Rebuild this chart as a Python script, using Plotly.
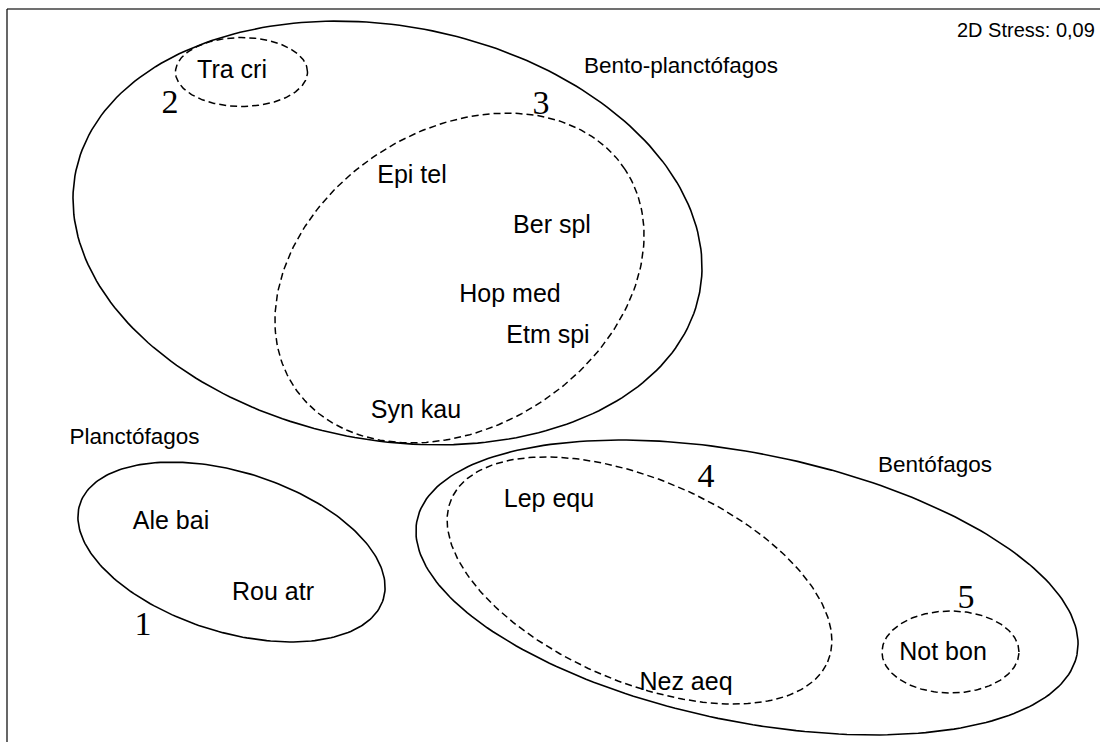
import numpy as np
import plotly.graph_objects as go

# NMDS scores of the species (arbitrary units)
species = ["Tra cri", "Epi tel", "Ber spl", "Hop med", "Etm spi", "Syn kau",
           "Lep equ", "Nez aeq", "Ale bai", "Rou atr", "Not bon"]
nmds1 = [-1.272, -0.552, 0.008, -0.160, -0.008, -0.536,
         -0.004, 0.544, -1.516, -1.108, 1.572]
nmds2 = [1.196, 0.776, 0.576, 0.300, 0.136, -0.164,
         -0.520, -1.252, -0.608, -0.892, -1.132]

# trophic groups (solid ellipses)
groups = ["Bento-planctófagos", "Planctófagos", "Bentófagos"]
group_lx = [0.524, -1.662, 1.540]
group_ly = [1.216, -0.268, -0.380]
group_cx = [-0.650, -1.274, 0.788]
group_cy = [0.552, -0.724, -0.866]
group_a = [1.271, 0.636, 1.347]
group_b = [0.828, 0.320, 0.536]
group_ang = [-10.8, -17.4, -11.5]

# cluster ellipses (dashed) with their numbers
clusters = ["1", "2", "3", "4", "5"]
clus_lx = [-1.628, -1.520, -0.036, 0.624, 1.664]
clus_ly = [-1.020, 1.068, 1.064, -0.428, -0.914]
clus_cx = [None, -1.234, -0.362, 0.358, 1.602]
clus_cy = [None, 1.196, 0.372, -0.838, -1.124]
clus_a = [None, 0.264, 0.792, 0.820, 0.274]
clus_b = [None, 0.138, 0.594, 0.405, 0.164]
clus_ang = [None, 0.0, 33.2, -23.4, 0.0]

stress = "2D Stress: 0,09"


def ellipse(cx, cy, a, b, ang, n=240):
    t = np.linspace(0, 2 * np.pi, n)
    th = np.radians(ang)
    x = cx + a * np.cos(t) * np.cos(th) - b * np.sin(t) * np.sin(th)
    y = cy + a * np.cos(t) * np.sin(th) + b * np.sin(t) * np.cos(th)
    return x, y


fig = go.Figure()

for i in range(len(groups)):
    ex, ey = ellipse(group_cx[i], group_cy[i], group_a[i], group_b[i], group_ang[i])
    fig.add_trace(go.Scatter(x=ex, y=ey, mode="lines",
                             line=dict(color="black", width=1.6),
                             hoverinfo="skip", showlegend=False))

for i in range(len(clusters)):
    if clus_cx[i] is None:
        continue
    ex, ey = ellipse(clus_cx[i], clus_cy[i], clus_a[i], clus_b[i], clus_ang[i])
    fig.add_trace(go.Scatter(x=ex, y=ey, mode="lines",
                             line=dict(color="black", width=1.5, dash="7px,4px"),
                             hoverinfo="skip", showlegend=False))

# species names
fig.add_trace(go.Scatter(x=nmds1, y=nmds2, mode="text", text=species,
                         textposition="middle center",
                         textfont=dict(family="Liberation Sans, Arial", size=25, color="black"),
                         showlegend=False))

# group names
fig.add_trace(go.Scatter(x=group_lx, y=group_ly, mode="text", text=groups,
                         textposition="middle center",
                         textfont=dict(family="Liberation Sans, Arial", size=22.5, color="black"),
                         showlegend=False))

# cluster numbers
fig.add_trace(go.Scatter(x=clus_lx, y=clus_ly, mode="text", text=clusters,
                         textposition="middle center",
                         textfont=dict(family="Liberation Serif, Times New Roman", size=34, color="black"),
                         showlegend=False))

fig.add_annotation(text=stress, xref="paper", yref="paper", x=1097 / 1100, y=1 - 30 / 742,
                   xanchor="right", yanchor="middle", showarrow=False,
                   font=dict(family="Liberation Sans, Arial", size=20, color="black"))

# frame (only top and left edges are visible in the cropped figure)
fig.add_shape(type="line", xref="paper", yref="paper", x0=7 / 1100, x1=1, y0=1 - 9 / 742, y1=1 - 9 / 742,
              line=dict(color="#707070", width=2))
fig.add_shape(type="line", xref="paper", yref="paper", x0=7 / 1100, x1=7 / 1100, y0=0, y1=1 - 9 / 742,
              line=dict(color="black", width=1.2))

fig.update_xaxes(range=[-2.2, 2.2], visible=False)
fig.update_yaxes(range=[-1.484, 1.484], visible=False)
fig.update_layout(width=1100, height=742, margin=dict(l=0, r=0, t=0, b=0),
                  plot_bgcolor="white", paper_bgcolor="white")

fig.write_html("out.html", config={"displayModeBar": False},
               post_script="document.body.style.margin='0';")
